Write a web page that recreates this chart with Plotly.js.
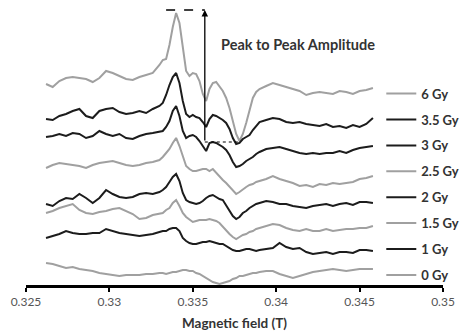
<!DOCTYPE html>
<html>
<head>
<meta charset="utf-8">
<script src="https://cdn.plot.ly/plotly-3.0.1.min.js"></script>
<style>html,body{margin:0;padding:0;background:#fff;}#chart{width:469px;height:336px;}</style>
</head>
<body>
<div id="chart"></div>
<script>
// Magnetic field (T)
const field = [
  0.3262,0.3266,0.3270,0.3274,0.3278,0.3282,0.3286,0.3290,0.3294,0.3298,0.3302,0.3306,0.3310,0.3314,0.3318,0.3322,0.3326,0.3330,
  0.3332,0.3334,0.3336,0.3338,0.3340,0.3342,0.3344,0.3346,0.3348,0.3350,0.3352,0.3354,0.3356,0.3358,0.3360,0.3362,0.3364,0.3366,0.3368,0.3370,0.3372,0.3374,0.3376,0.3378,0.3380,0.3382,0.3384,0.3386,0.3388,0.3390,
  0.3394,0.3398,0.3402,0.3406,0.3410,0.3414,0.3418,0.3422,0.3426,0.3430,0.3434,0.3438,0.3442,0.3446,0.3450,0.3454,0.3458
];
// Offset EPR signal (arbitrary units), one array per dose
const gy6 = [
  201,198,204,207,208,207,206,203,207,214,212,209,206,205,208,210,212,220,
  225,226,240,258,272,262,239,214,209,212,211,204,191,184,196,202,203,199,194,187,177,164,151,144,151,162,176,187,193,196,
  199,202,200,198,196,194,190,192,193,192,191,194,193,191,194,195,197
];
const gy3_5 = [
  166,165,169,171,174,176,169,167,174,176,177,173,171,172,174,172,176,179,
  182,190,200,208,212,202,184,171,168,170,168,167,163,158,166,170,169,167,165,162,156,147,141,142,146,148,150,155,159,163,
  165,167,166,163,162,163,161,160,159,161,158,159,157,160,158,161,167
];
const gy3 = [
  148,149,151,149,152,151,147,149,154,151,149,151,147,146,149,151,152,153,
  154,158,164,174,179,169,154,147,149,150,148,144,139,134,142,143,142,140,138,135,130,123,118,119,121,124,126,128,131,133,
  136,137,138,136,134,132,131,132,131,132,132,134,132,135,137,138,139
];
const gy2_5 = [
  117,120,122,121,120,119,117,120,122,123,124,122,120,119,120,122,123,125,
  128,132,136,142,147,139,129,119,116,114,114,115,116,116,114,116,112,108,105,102,98,94,91,93,96,98,100,101,103,104,
  106,109,106,104,102,99,100,98,101,100,102,101,102,103,106,107,109
];
const gy2 = [
  81,79,84,87,86,91,87,82,87,95,91,88,87,88,91,92,91,93,
  95,98,103,108,111,104,92,85,83,82,81,82,84,87,89,90,88,86,85,80,74,69,66,68,72,74,77,79,81,82,
  84,83,81,81,79,78,77,79,80,81,79,81,82,80,83,83,82
];
const gy1_5 = [
  72,74,77,79,81,75,72,71,73,74,76,77,74,71,66,67,70,71,
  72,75,77,82,85,79,72,68,65,63,64,65,65,65,66,65,64,62,58,54,51,48,46,48,50,51,53,54,56,57,
  59,61,60,57,55,54,56,54,54,56,54,55,56,56,57,57,59
];
const gy1 = [
  47,49,51,54,52,51,51,52,52,56,54,52,51,50,49,50,51,53,
  54,54,56,57,57,54,47,44,42,41,41,42,43,43,44,43,42,41,41,39,37,35,34,34,35,36,36,35,34,35,
  36,37,42,38,36,37,33,31,32,33,31,33,33,32,35,35,34
];
const gy0 = [
  22,21,19,17,18,16,15,14,12,11,10,9,10,10,10,11,11,12,
  12,11,12,13,13,14,15,15,14,14,12,11,9,7,5,3,2,1,2,3,4,6,7,9,9,10,11,12,12,13,
  14,14,11,9,7,9,11,13,14,15,16,15,14,15,16,16,16
];
const doseLabels = ['6 Gy','3.5 Gy','3 Gy','2.5 Gy','2 Gy','1.5 Gy','1 Gy','0 Gy'];
const tickValues = [0.325,0.33,0.335,0.34,0.345,0.35];
const tickLabels = ['0.325','0.33','0.335','0.34','0.345','0.35'];

const series = [gy6, gy3_5, gy3, gy2_5, gy2, gy1_5, gy1, gy0];
const GRAY = '#a0a0a0', DARK = '#1c1c1c';
const colors = [GRAY, DARK, DARK, GRAY, DARK, GRAY, DARK, GRAY];

const traces = series.map((s, i) => ({
  x: field, y: s, type: 'scatter', mode: 'lines', name: doseLabels[i],
  legendgroup: 'g' + i,
  line: {color: colors[i], width: 2},
  hoverinfo: 'skip'
}));

// peak-to-peak marks derived from the 6 Gy spectrum
const peakVal = Math.max(...gy6);
const troughVal = Math.min(...gy6);
const troughX = field[gy6.indexOf(troughVal)];
const peakX = field[gy6.indexOf(peakVal)];
const arrowX = 0.33572;

const layout = {
  width: 469, height: 336,
  margin: {l: 26, r: 11, t: 5, b: 51},
  paper_bgcolor: '#fff', plot_bgcolor: '#fff',
  font: {family: 'Lato, "Open Sans", sans-serif', color: '#404040'},
  xaxis: {
    range: [0.325, 0.35], tickvals: tickValues, ticktext: tickLabels,
    showgrid: false, zeroline: false,
    showline: true, linecolor: '#000', linewidth: 3,
    ticks: 'outside', ticklen: 4, tickwidth: 2, tickcolor: '#000',
    tickfont: {size: 12, color: '#555'},
    title: {text: 'Magnetic field (T)', font: {size: 13.5, color: '#333', weight: 'bold'}, standoff: 11},
    fixedrange: true
  },
  yaxis: {
    range: [0, 280], visible: false, showgrid: false, zeroline: false, fixedrange: true
  },
  showlegend: true,
  legend: {
    x: 0.852, xanchor: 'left', y: 0.737, yanchor: 'top',
    font: {size: 13, color: '#333', weight: 'bold'},
    tracegroupgap: 6, bgcolor: 'rgba(0,0,0,0)', borderwidth: 0,
    itemwidth: 30
  },
  shapes: [
    {type: 'line', xref: 'x', yref: 'y', x0: peakX - 0.0006, x1: arrowX, y0: peakVal + 3, y1: peakVal + 3,
     line: {color: '#000', width: 1.3, dash: 'dash'}},
    {type: 'line', xref: 'x', yref: 'y', x0: arrowX, x1: troughX, y0: troughVal - 1, y1: troughVal - 1,
     line: {color: '#000', width: 1, dash: 'dot'}}
  ],
  annotations: [
    {x: arrowX, y: peakVal + 3, xref: 'x', yref: 'y', ax: arrowX, ay: troughVal - 1, axref: 'x', ayref: 'y',
     showarrow: true, arrowhead: 2, arrowsize: 1, arrowwidth: 1.3, arrowcolor: '#000', text: ''},
    {x: 0.3413, y: 241, xref: 'x', yref: 'y', showarrow: false, text: 'Peak to Peak Amplitude',
     font: {size: 14.5, color: '#333', weight: 'bold'}}
  ]
};

Plotly.newPlot('chart', traces, layout, {displayModeBar: false, staticPlot: true});
</script>
</body>
</html>
